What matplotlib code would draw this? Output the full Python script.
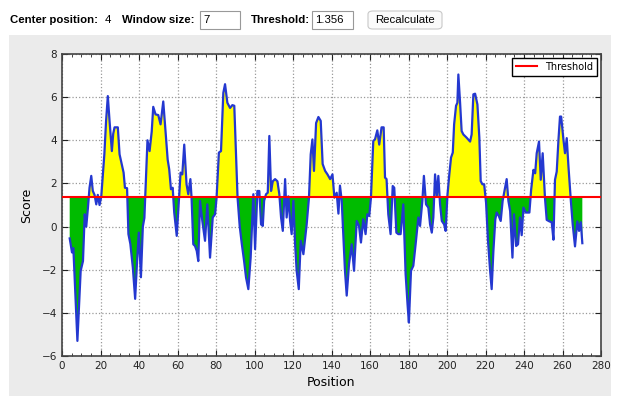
import numpy as np
import matplotlib
matplotlib.use("Agg")
import matplotlib.pyplot as plt
from matplotlib.patches import Rectangle, FancyBboxPatch
from matplotlib.ticker import MultipleLocator

# window settings shown in the header
center_position = 4
window_size = 7
threshold = 1.356

# hydropathy-like score (position, score)
positions = [
    4.0, 5.2, 5.9, 8.0, 9.7, 10.9, 11.8, 12.6, 13.5, 14.3, 15.2, 16.0, 16.9,
    17.8, 18.6, 19.5, 20.4, 22.0, 22.9, 23.8, 24.7, 25.9, 26.6, 27.3, 29.0,
    29.9, 31.0, 32.0, 32.7, 33.8, 34.5, 35.5, 36.8, 38.0, 39.0, 39.9, 41.0,
    42.0, 42.8, 44.4, 45.5, 46.6, 47.4, 48.6, 50.0, 51.2, 52.6, 53.8, 54.9,
    55.7, 56.6, 57.5, 58.3, 59.6, 60.4, 61.6, 62.5, 63.5, 64.7, 65.6, 66.7,
    67.3, 68.2, 69.1, 70.0, 70.8, 71.7, 72.9, 74.3, 75.5, 76.9, 78.3, 79.5,
    80.3, 81.5, 82.6, 83.8, 84.7, 85.9, 87.3, 88.5, 89.5, 90.4, 91.2, 92.3,
    93.4, 94.6, 95.6, 96.8, 98.0, 99.4, 100.3, 101.5, 102.5, 103.4, 104.3,
    105.0, 106.0, 106.9, 107.7, 108.6, 109.5, 110.7, 111.9, 112.9, 113.8,
    114.7, 115.9, 116.7, 117.6, 118.5, 119.3, 120.2, 121.1, 121.9, 123.0,
    124.0, 125.4, 127.1, 128.3, 129.2, 130.1, 130.9, 132.0, 133.2, 134.4,
    135.4, 136.7, 137.9, 139.3, 140.5, 141.5, 142.7, 143.6, 144.4, 145.3,
    146.1, 147.0, 147.9, 149.1, 150.5, 151.7, 153.1, 154.3, 155.3, 156.5,
    157.7, 158.6, 159.6, 160.5, 161.7, 162.6, 163.8, 164.8, 166.0, 167.1,
    167.8, 168.6, 169.5, 170.7, 171.8, 172.6, 173.7, 174.7, 175.9, 177.3,
    178.5, 179.5, 180.2, 181.3, 182.5, 183.7, 185.1, 186.0, 187.2, 188.0,
    189.1, 190.3, 191.2, 192.1, 192.9, 193.8, 194.7, 195.5, 196.4, 197.3,
    198.5, 199.3, 200.2, 201.2, 202.1, 203.0, 203.7, 204.7, 205.4, 205.9,
    206.8, 207.6, 208.5, 210.2, 212.0, 212.8, 213.7, 214.6, 215.8, 216.8,
    217.5, 218.4, 219.3, 220.3, 221.3, 222.4, 223.2, 224.1, 225.1, 225.8,
    226.9, 227.9, 228.9, 230.2, 231.0, 231.9, 232.8, 234.0, 234.8, 235.9,
    236.9, 237.9, 238.8, 239.7, 240.9, 242.8, 243.7, 244.9, 245.8, 246.6,
    247.8, 248.7, 249.7, 250.9, 251.8, 253.2, 254.4, 255.3, 256.1, 257.0,
    257.9, 258.7, 259.3, 260.5, 261.3, 262.2, 263.1, 264.3, 265.3, 266.5,
    267.7, 268.6, 269.5, 270.3,
]
scores = [
    -0.55, -1.2, -1.0, -5.3, -2.05, -1.6, 0.57, 0.0, 0.9, 1.8, 2.35, 1.65, 1.47,
    1.03, 1.47, 1.0, 1.4, 3.35, 4.9, 6.05, 4.9, 3.5, 4.3, 4.6, 4.6,
    3.35, 2.9, 2.5, 1.8, 1.78, -0.35, -0.8, -1.9, -3.35, -1.6, -0.28, -2.35,
    0.0, 0.4, 4.0, 3.5, 4.4, 5.55, 5.2, 5.17, 4.74, 5.8, 4.4, 3.1,
    2.65, 1.73, 1.8, 0.65, -0.43, 0.72, 2.5, 2.42, 3.8, 1.96, 1.5, 2.2,
    1.34, -0.82, -0.9, -1.13, -1.6, 1.19, 0.26, -0.66, 1.03, -1.44, 0.42, 0.57,
    1.34, 3.43, 3.5, 6.2, 6.6, 5.74, 5.5, 5.63, 5.6, 3.35, 1.34, 0.03,
    -0.8, -1.6, -2.36, -2.9, -1.44, 1.5, -1.05, 1.65, 1.65, 0.1, 0.03,
    1.2, 1.5, 1.57, 4.2, 1.65, 2.1, 2.2, 2.1, 1.5, 0.42,
    -0.2, 2.2, 0.42, 1.4, 0.26, -0.35, 1.2, -0.82, -2.05, -2.9,
    -0.66, -1.28, 0.1, 1.34, 3.35, 4.04, 2.58, 4.8, 5.08, 4.9,
    2.9, 2.58, 2.42, 2.2, 2.42, 1.34, 1.57, 0.6, 1.9, 1.2,
    -0.35, -2.05, -3.2, -1.74, -0.82, -2.05, 0.26, 0.03, -0.74, 0.34,
    -0.35, 0.57, 0.49, 1.34, 3.97, 4.04, 4.46, 3.8, 4.6, 4.6,
    2.27, 2.2, 0.57, -0.35, 1.88, 1.8, -0.28, -0.35, -0.35, 1.03,
    -2.2, -3.6, -4.45, -2.05, -1.82, -0.82, 0.42, 0.03, 1.19, 2.35,
    1.03, 0.88, 0.1, -0.28, 0.42, 2.42, 1.42, 2.35, 1.03, 0.26,
    0.1, -0.2, 1.42, 2.42, 3.2, 3.43, 4.74, 5.6, 5.74, 7.05,
    5.74, 4.43, 4.27, 4.12, 3.94, 4.27, 6.13, 6.16, 5.66, 4.12,
    2.11, 1.96, 1.96, 1.1, -0.66, -2.05, -2.9, -1.13, 0.34, 0.65,
    0.49, 0.26, 1.19, 1.8, 2.2, 1.19, 0.72, -1.44, 0.57, -0.9,
    -0.82, 0.42, -0.4, 0.88, 0.65, 0.65, 1.7, 2.63, 2.47, 3.4,
    3.94, 2.17, 3.4, 1.32, 0.31, 0.24, 0.2, -0.61, 2.17, 2.55,
    4.02, 5.1, 5.1, 4.02, 3.4, 4.1, 2.78, 1.24, 0.1, -0.92,
    0.24, -0.2, 0.2, -0.77,
]

W, H = 618, 398


def fx(x):
    return x / W


def fy(y):
    return 1 - y / H


fig = plt.figure(figsize=(W / 100, H / 100), dpi=100)
fig.patch.set_facecolor("white")

# grey panel behind the chart
fig.add_artist(Rectangle((fx(9), fy(396)), fx(611) - fx(9), fy(35) - fy(396),
                         transform=fig.transFigure, facecolor="#ebebeb",
                         edgecolor="none", zorder=0))

# header controls
hfont = {"family": "Liberation Sans", "fontsize": 8.2, "va": "center"}
yh = fy(20)
fig.text(fx(10), yh, "Center position:", fontweight="bold", **hfont)
fig.text(fx(105), yh, str(center_position), **hfont)
fig.text(fx(122), yh, "Window size:", fontweight="bold", **hfont)
fig.add_artist(Rectangle((fx(200), fy(29)), fx(240) - fx(200), fy(11) - fy(29),
                         transform=fig.transFigure, facecolor="white",
                         edgecolor="#999999", linewidth=0.8))
fig.text(fx(203), yh, str(window_size), **hfont)
fig.text(fx(251), yh, "Threshold:", fontweight="bold", **hfont)
fig.add_artist(Rectangle((fx(312), fy(29)), fx(353) - fx(312), fy(11) - fy(29),
                         transform=fig.transFigure, facecolor="white",
                         edgecolor="#999999", linewidth=0.8))
fig.text(fx(315), yh, "{:.3f}".format(threshold), **hfont)
fig.add_artist(FancyBboxPatch((fx(368), fy(29)), fx(442) - fx(368), fy(11) - fy(29),
                              boxstyle="round,pad=0,rounding_size=0.008",
                              transform=fig.transFigure, facecolor="#fafafa",
                              edgecolor="#c8c8c8", linewidth=0.8))
fig.text(fx(405), yh, "Recalculate", ha="center",
         **{k: v for k, v in hfont.items() if k != "va"}, va="center")

ax = fig.add_axes([fx(62), fy(356), fx(601) - fx(62), fy(54) - fy(356)])
ax.set_facecolor("white")

x = np.array(positions)
y = np.array(scores)
ax.fill_between(x, y, threshold, where=y >= threshold, interpolate=True,
                facecolor="#ffff00", edgecolor="none", zorder=2)
ax.fill_between(x, y, threshold, where=y <= threshold, interpolate=True,
                facecolor="#00bb00", edgecolor="none", zorder=2)
ax.plot(x, y, color="#2438d0", linewidth=1.6, zorder=3)
ax.axhline(threshold, color="red", linewidth=1.5, label="Threshold", zorder=4)

ax.set_xlim(0, 280)
ax.set_ylim(-6, 8)
ax.set_xticks(np.arange(0, 281, 20))
ax.set_yticks(np.arange(-6, 9, 2))
ax.xaxis.set_minor_locator(MultipleLocator(5))
ax.grid(True, which="major", linestyle=":", color="#999999", linewidth=0.9)
ax.tick_params(axis="both", which="both", direction="in", top=True, right=True,
               labelsize=7.5, colors="#222222")
ax.tick_params(axis="both", which="major", length=4)
ax.tick_params(axis="both", which="minor", length=2)
for s in ax.spines.values():
    s.set_color("#444444")
    s.set_linewidth(1.2)
ax.set_xlabel("Position", fontsize=9, labelpad=4)
ax.set_ylabel("Score", fontsize=9, labelpad=6)

ax.legend(loc="upper right", fontsize=7, fancybox=False, edgecolor="black",
          framealpha=1, borderaxespad=0.4, handlelength=2.2)

fig.savefig("out.png", dpi=100)
